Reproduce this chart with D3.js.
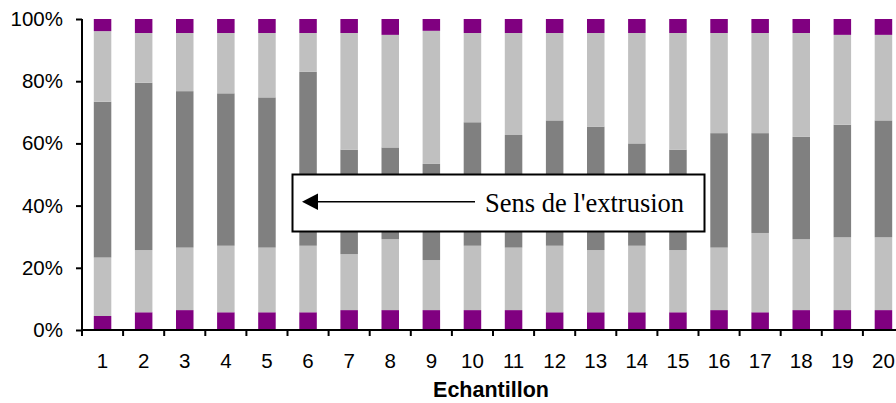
<!DOCTYPE html>
<html>
<head>
<meta charset="utf-8">
<script src="https://cdn.jsdelivr.net/npm/d3@7"></script>
<style>
  html, body { margin: 0; padding: 0; background: #fff; }
  svg { display: block; }
</style>
</head>
<body>
<svg id="chart" width="896" height="403"></svg>
<script>
// ---- data (percent of each bar, bottom to top) ----
const categories = ["1","2","3","4","5","6","7","8","9","10","11","12","13","14","15","16","17","18","19","20"];
const purpleBottom = [4.5,5.7,6.4,5.7,5.7,5.7,6.4,6.4,6.4,6.4,6.4,5.7,5.7,5.7,5.7,6.4,5.7,6.4,6.4,6.4];
const lightLow     = [18.8,20.0,20.1,21.4,20.8,21.4,18.0,22.8,16.1,20.7,20.1,21.4,20.0,21.4,20.0,20.1,25.5,22.8,23.4,23.4];
const darkMid      = [50.1,53.8,50.3,49.0,48.3,55.9,33.6,29.5,30.9,39.7,36.2,40.3,39.7,32.9,32.3,36.8,32.1,32.9,36.2,37.6];
const lightHigh    = [22.7,16.0,18.7,19.4,20.7,12.5,37.5,36.2,42.8,28.7,32.8,28.1,30.1,35.5,37.5,32.2,32.2,33.4,28.9,27.5];
const purpleTop    = [3.9,4.5,4.5,4.5,4.5,4.5,4.5,5.1,3.8,4.5,4.5,4.5,4.5,4.5,4.5,4.5,4.5,4.5,5.1,5.1];
const yTicks = [0, 0.2, 0.4, 0.6, 0.8, 1.0];
const xTitle = "Echantillon";
const annotation = "Sens de l'extrusion";

(function () {
const seriesKeys = ["purpleBottom","lightLow","darkMid","lightHigh","purpleTop"];
const seriesColors = {purpleBottom:"#800080", lightLow:"#C0C0C0", darkMid:"#808080", lightHigh:"#C0C0C0", purpleTop:"#800080"};
const seriesData = {purpleBottom, lightLow, darkMid, lightHigh, purpleTop};

const rows = categories.map((c, i) => {
  const r = {cat: c};
  seriesKeys.forEach(k => r[k] = seriesData[k][i]);
  return r;
});

const svg = d3.select("#chart");
const mLeft = 82, mRight = 904, mTop = 19, mBottom = 330;

const x = d3.scaleBand().domain(categories).range([mLeft, mRight])
  .paddingInner(0.574).paddingOuter(0.287);
const step = x.step();
const y = d3.scaleLinear().domain([0, 1]).range([mBottom, mTop]);

const stacked = d3.stack().keys(seriesKeys).offset(d3.stackOffsetExpand)(rows);

svg.append("g").selectAll("g").data(stacked).join("g")
  .attr("fill", d => seriesColors[d.key])
  .selectAll("rect").data(d => d).join("rect")
  .attr("x", d => x(d.data.cat))
  .attr("width", x.bandwidth())
  .attr("y", d => y(d[1]))
  .attr("height", d => y(d[0]) - y(d[1]));

// Y axis
const yAxis = svg.append("g")
  .attr("transform", `translate(${mLeft},0)`)
  .call(d3.axisLeft(y).tickValues(yTicks).tickFormat(d3.format(".0%")).tickSize(6).tickPadding(13));
yAxis.select(".domain").attr("stroke", "#000").attr("stroke-width", 2).attr("d", `M0,${mTop}V${mBottom}`);
yAxis.selectAll(".tick line").attr("stroke", "#000").attr("stroke-width", 2);
yAxis.selectAll("text").attr("font-family", "Liberation Sans, Arial, sans-serif")
  .attr("font-size", "20.5px").attr("fill", "#000");

// X axis: line + boundary ticks
const xg = svg.append("g");
xg.append("line").attr("x1", mLeft - 1).attr("x2", 896).attr("y1", mBottom).attr("y2", mBottom)
  .attr("stroke", "#000").attr("stroke-width", 2);
xg.selectAll("line.bt").data(categories).join("line").attr("class", "bt")
  .attr("x1", d => x(d) - step * x.paddingOuter())
  .attr("x2", d => x(d) - step * x.paddingOuter())
  .attr("y1", mBottom).attr("y2", mBottom + 6)
  .attr("stroke", "#000").attr("stroke-width", 2);

const xAxis = svg.append("g")
  .attr("transform", `translate(0,${mBottom})`)
  .call(d3.axisBottom(x).tickSize(0).tickPadding(23));
xAxis.select(".domain").remove();
xAxis.selectAll("text").attr("font-family", "Liberation Sans, Arial, sans-serif")
  .attr("font-size", "20.5px").attr("fill", "#000").attr("dy", "0.71em");

// X title
svg.append("text").attr("x", (mLeft + mRight) / 2 - 2).attr("y", 397)
  .attr("text-anchor", "middle")
  .attr("font-family", "Liberation Sans, Arial, sans-serif")
  .attr("font-weight", "bold").attr("font-size", "21.5px").attr("fill", "#000")
  .text(xTitle);

// Annotation box
const ann = svg.append("g");
ann.append("rect").attr("x", 292.5).attr("y", 174.5).attr("width", 412).attr("height", 57)
  .attr("fill", "#fff").attr("stroke", "#000").attr("stroke-width", 2);
ann.append("line").attr("x1", 315).attr("x2", 475).attr("y1", 201.7).attr("y2", 201.7)
  .attr("stroke", "#000").attr("stroke-width", 1.6);
ann.append("path").attr("d", "M302,201.7L318,193.5L318,210Z").attr("fill", "#000");
ann.append("text").attr("x", 485).attr("y", 211.5)
  .attr("font-family", "Liberation Serif, Times New Roman, serif")
  .attr("font-size", "26.5px").attr("fill", "#000")
  .text(annotation);
})();
</script>
</body>
</html>
